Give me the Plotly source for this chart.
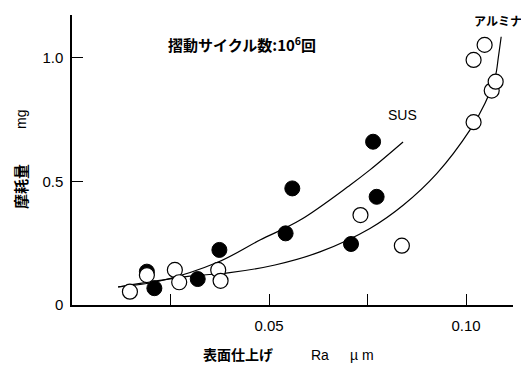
import plotly.graph_objects as go

# SUS (filled) data points: Ra (um), wear (mg)
sus_x = [0.0190, 0.0209, 0.0319, 0.0374, 0.0542, 0.0559, 0.0708, 0.0764, 0.0773]
sus_y = [0.135, 0.068, 0.105, 0.223, 0.290, 0.472, 0.247, 0.661, 0.438]

# Alumina (open) data points
alu_x = [0.0147, 0.0190, 0.0261, 0.0272, 0.0371, 0.0377, 0.0732, 0.0837,
         0.1019, 0.1019, 0.1047, 0.1065, 0.1075]
alu_y = [0.054, 0.121, 0.142, 0.092, 0.142, 0.098, 0.364, 0.240,
         0.740, 0.992, 1.053, 0.868, 0.904]

# Trend curves
sus_curve_x = [0.0117, 0.0223, 0.0371, 0.0477, 0.0579, 0.0706, 0.0756, 0.0840]
sus_curve_y = [0.073, 0.097, 0.174, 0.263, 0.344, 0.486, 0.547, 0.660]
alu_curve_x = [0.0117, 0.0299, 0.0396, 0.0515, 0.0629, 0.0756, 0.0841, 0.0926,
               0.1010, 0.1048, 0.1074, 0.1082, 0.1089]
alu_curve_y = [0.073, 0.117, 0.130, 0.162, 0.215, 0.310, 0.405, 0.533,
               0.709, 0.817, 0.924, 1.005, 1.086]

x_tickvals = [0.05, 0.10]
x_ticktext = ["0.05", "0.10"]
x_minor_ticks = [0.025, 0.075]
y_tickvals = [0, 0.5, 1.0]
y_ticktext = ["0", "0.5", "1.0"]

JP = "Noto Sans CJK JP"
LAT = "Liberation Sans"

fig = go.Figure()
fig.add_trace(go.Scatter(x=sus_curve_x, y=sus_curve_y, mode="lines",
                         line=dict(color="black", width=1.2, shape="spline"),
                         hoverinfo="skip"))
fig.add_trace(go.Scatter(x=alu_curve_x, y=alu_curve_y, mode="lines",
                         line=dict(color="black", width=1.2, shape="spline"),
                         hoverinfo="skip"))
fig.add_trace(go.Scatter(x=sus_x, y=sus_y, mode="markers",
                         marker=dict(size=15, color="black",
                                     line=dict(color="black", width=1))))
fig.add_trace(go.Scatter(x=alu_x, y=alu_y, mode="markers",
                         marker=dict(size=15, color="white",
                                     line=dict(color="black", width=1.2))))

ann = []
def add(text, x, y, size, family, xanchor="center", angle=0, bold=False):
    t = f"<b>{text}</b>" if bold else text
    ann.append(dict(text=t, x=x, y=y, xref="paper", yref="paper",
                    showarrow=False, xanchor=xanchor, yanchor="middle",
                    textangle=angle,
                    font=dict(family=family, size=size, color="black")))

# reference pixel -> paper helpers (plot area 72..513 x, 15..305 y)
px = lambda p: (p - 72) / 441
py = lambda p: (305 - p) / 290

add("摺動サイクル数:10<sup>6</sup>回", px(166), py(44), 15, JP, xanchor="left", bold=True)
add("SUS", px(402), py(115), 14, LAT)
add("アルミナ", px(498), py(20), 12, JP, bold=True)
add("摩耗量", px(20), py(187), 15, JP, angle=-90, bold=True)
add("mg", px(21), py(120), 14, LAT, angle=-90)
add("表面仕上げ", px(238), py(354), 14, JP, bold=True)
add("Ra", px(320), py(355), 14, LAT)
add("µ m", px(362), py(355), 14, LAT)

# page body has an 8px margin, so the figure is offset by 8px
fig.update_layout(
    width=521, height=357,
    margin=dict(l=64, r=16, t=7, b=60),
    paper_bgcolor="white", plot_bgcolor="white",
    showlegend=False,
    annotations=ann,
    font=dict(family=LAT, size=15, color="black"),
)
fig.update_xaxes(range=[0, 0.1119], showline=True, linecolor="black", linewidth=1.5,
                 showgrid=False, zeroline=False, ticks="inside", ticklen=11,
                 tickcolor="black", tickwidth=1.2, tickvals=x_tickvals,
                 ticktext=x_ticktext, ticklabelstandoff=6,
                 minor=dict(tickvals=x_minor_ticks, ticks="inside", ticklen=11,
                            tickcolor="black", tickwidth=1.2, showgrid=False),
                 tickfont=dict(family=LAT, size=15, color="black"))
fig.update_yaxes(range=[0, 1.174], showline=True, linecolor="black", linewidth=1.5,
                 showgrid=False, zeroline=False, ticks="inside", ticklen=11,
                 tickcolor="black", tickwidth=1.2, tickvals=y_tickvals,
                 ticktext=y_ticktext, ticklabelstandoff=4,
                 tickfont=dict(family=LAT, size=15, color="black"))

fig.write_html("out.html")
